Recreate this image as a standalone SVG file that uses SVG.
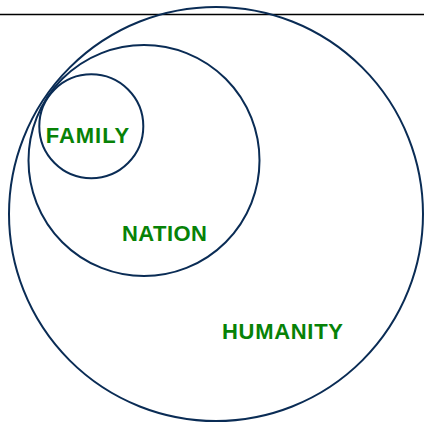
<svg xmlns="http://www.w3.org/2000/svg" width="424" height="422" viewBox="0 0 424 422">
<style>
.c{fill:none;stroke:#0a2c55;stroke-width:2}
.t{font-family:"Liberation Sans",Arial,sans-serif;font-weight:bold;font-size:22px;fill:#078207}
</style>
<rect width="424" height="422" fill="#fff"/>
<line x1="0" y1="14.5" x2="424" y2="14.5" stroke="#000" stroke-width="1.5"/>
<g id="humanity"><circle class="c" cx="216" cy="214" r="207"/><text class="t" x="222" y="339" textLength="121" lengthAdjust="spacing">HUMANITY</text></g>
<g id="nation"><circle class="c" cx="144" cy="160.5" r="115.5"/><text class="t" x="122" y="240.5" textLength="85" lengthAdjust="spacing">NATION</text></g>
<g id="family"><circle class="c" cx="91.3" cy="126.3" r="52"/><text class="t" x="45.7" y="142.7" textLength="83.5" lengthAdjust="spacing">FAMILY</text></g>
<g id="connectors"/>
</svg>
